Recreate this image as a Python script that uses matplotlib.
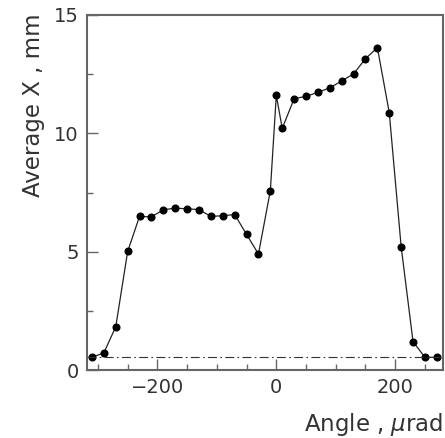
import numpy as np
import matplotlib
matplotlib.use("Agg")
import matplotlib.pyplot as plt
from matplotlib.ticker import MultipleLocator

# angle (urad) and average X (mm)
angle = [-310, -290, -270, -250, -230, -210, -190, -170, -150, -130, -110,
         -90, -70, -50, -30, -10, 0, 10, 30, 50, 70, 90, 110, 130, 150,
         170, 190, 210, 230, 250, 270]
avg_x = [0.54, 0.73, 1.83, 5.01, 6.49, 6.47, 6.77, 6.84, 6.81, 6.78, 6.49,
         6.52, 6.57, 5.73, 4.90, 7.58, 11.6, 10.21, 11.46, 11.56, 11.73,
         11.92, 12.21, 12.51, 13.15, 13.62, 10.87, 5.21, 1.20, 0.54, 0.54]
baseline = 0.54

plt.rcParams['font.family'] = ['DejaVu Sans']
txt = '#333333'

fig = plt.figure(figsize=(4.45, 4.38), dpi=100)
ax = fig.add_axes([0.196, 0.155, 0.799, 0.811])

ax.plot(angle, avg_x, color='#222222', lw=0.9, marker='o', ms=4.8,
        mfc='black', mec='black')
ax.axhline(baseline, color='#333333', lw=0.8, ls=(0, (8, 3, 1.5, 3)))

ax.set_xlim(-318, 280)
ax.set_ylim(0, 15)
ax.xaxis.set_major_locator(MultipleLocator(200))
ax.xaxis.set_minor_locator(MultipleLocator(50))
ax.yaxis.set_major_locator(MultipleLocator(5))
ax.yaxis.set_minor_locator(MultipleLocator(2.5))
ax.tick_params(which='both', direction='in', color='#666666', width=1,
               labelcolor=txt, labelsize=14)
ax.tick_params(which='major', length=8, pad=6)
ax.tick_params(which='minor', length=4)
for s in ax.spines.values():
    s.set_color('#666666')
    s.set_linewidth(1.5)

ax.set_xlabel(r'Angle , $\mu$rad', loc='right', fontsize=16.5, color=txt)
ax.set_ylabel('Average X , mm', loc='top', fontsize=16.5, color=txt)
ax.xaxis.set_label_coords(1.0, -0.115)
ax.yaxis.set_label_coords(-0.12, 1.005)

fig.savefig('out.png', dpi=100)
